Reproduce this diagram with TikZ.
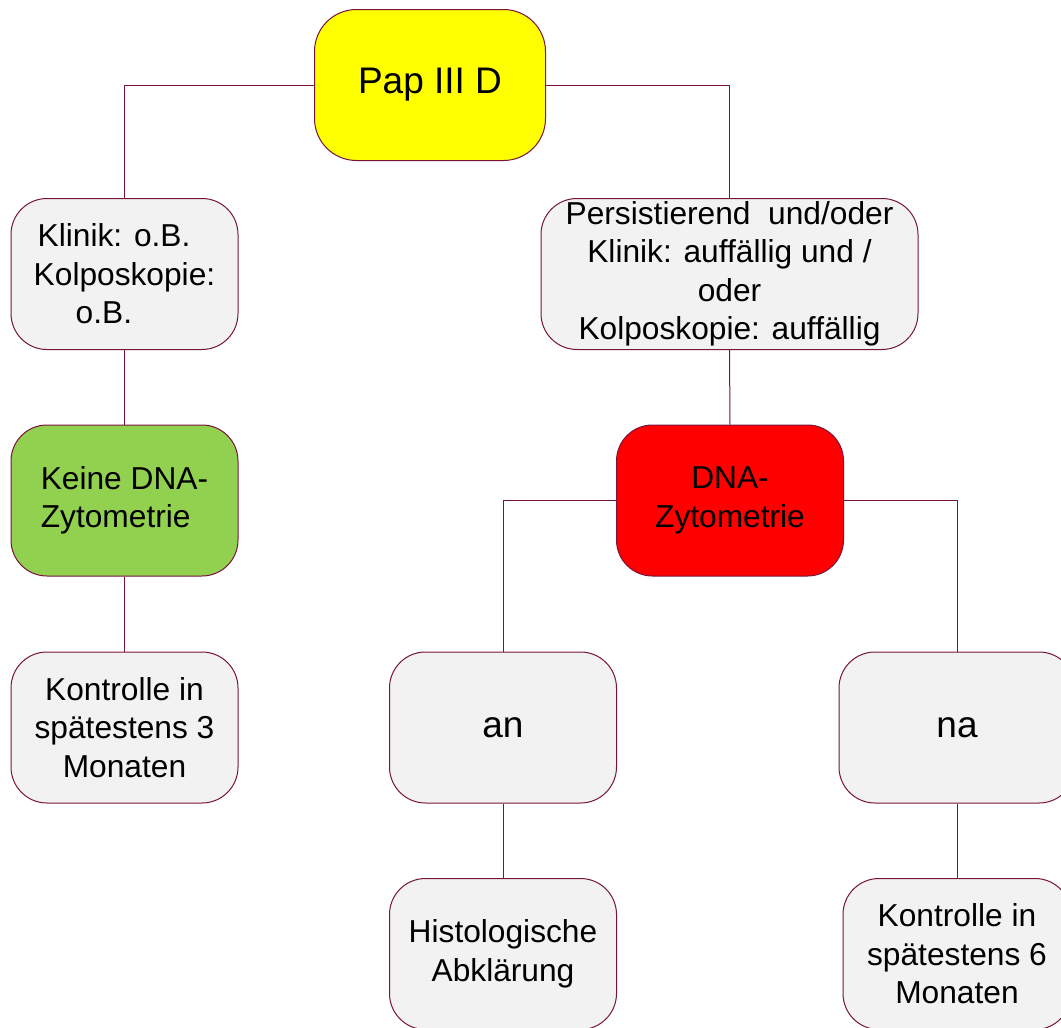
\documentclass[tikz,border=0pt]{standalone}
\usepackage{fontspec}
\setmainfont{Liberation Sans}
\definecolor{edge}{RGB}{120,20,60}
\definecolor{boxgray}{RGB}{242,242,242}
\definecolor{papyellow}{RGB}{255,255,0}
\definecolor{okgreen}{RGB}{146,208,80}
\definecolor{alertred}{RGB}{255,0,0}
\tikzset{
  card/.style={draw=edge, line width=1pt, rounded corners=36pt, fill=boxgray,
    minimum width=227pt, minimum height=151pt, inner sep=0pt, align=center,
    font=\fontsize{31.7}{38.5}\selectfont},
  big/.style={font=\fontsize{37}{42}\selectfont},
  link/.style={draw=edge, line width=1pt}
}
\begin{document}
\begin{tikzpicture}[x=1pt,y=-1pt]
\useasboundingbox (0,0) rectangle (1061,1028);
\clip (0,0) rectangle (1061,1028);
\fill[white] (0,0) rectangle (1061,1028);

% top decision
\node[card, big, fill=papyellow, minimum width=231pt, minimum height=151pt, rounded corners=42pt] (pap) at (430,85) {Pap III D};

% second level
\node[card, align=left] (leftA) at (124.5,274) {\hspace{4pt}Klinik: o.B.\\Kolposkopie:\\\hspace{42pt}o.B.};
\node[card, minimum width=377pt] (rightA) at (729.5,274) {Persistierend\ \ und/oder\\Klinik: auffällig und /\\oder\\Kolposkopie: auffällig};

% third level
\node[card, fill=okgreen, align=left] (noDNA) at (124.5,500.5) {Keine DNA-\\Zytometrie};
\node[card, fill=alertred] (dna) at (730,500.5) {DNA-\\Zytometrie};

% fourth level
\node[card] (ctrl3) at (124.5,727.5) {Kontrolle in\\spätestens 3\\Monaten};
\node[card, big] (an) at (503,727.5) {an};
\node[card, big, minimum width=236pt] (na) at (957,727.5) {na};

% bottom level
\node[card] (histo) at (503,954) {Histologische\\Abklärung};
\node[card, minimum width=228pt] (ctrl6) at (957,954) {Kontrolle in\\spätestens 6\\Monaten};

% connectors
\draw[link] (pap.west) -| (leftA.north);
\draw[link] (pap.east) -| (rightA.north);
\draw[link] (leftA.south) -- (noDNA.north);
\draw[link] (noDNA.south) -- (ctrl3.north);
\draw[link] (rightA.south) -- (dna.north);
\draw[link] (dna.west) -| (an.north);
\draw[link] (dna.east) -| (na.north);
\draw[link] (an.south) -- (histo.north);
\draw[link] (na.south) -- (ctrl6.north);
\end{tikzpicture}
\end{document}
